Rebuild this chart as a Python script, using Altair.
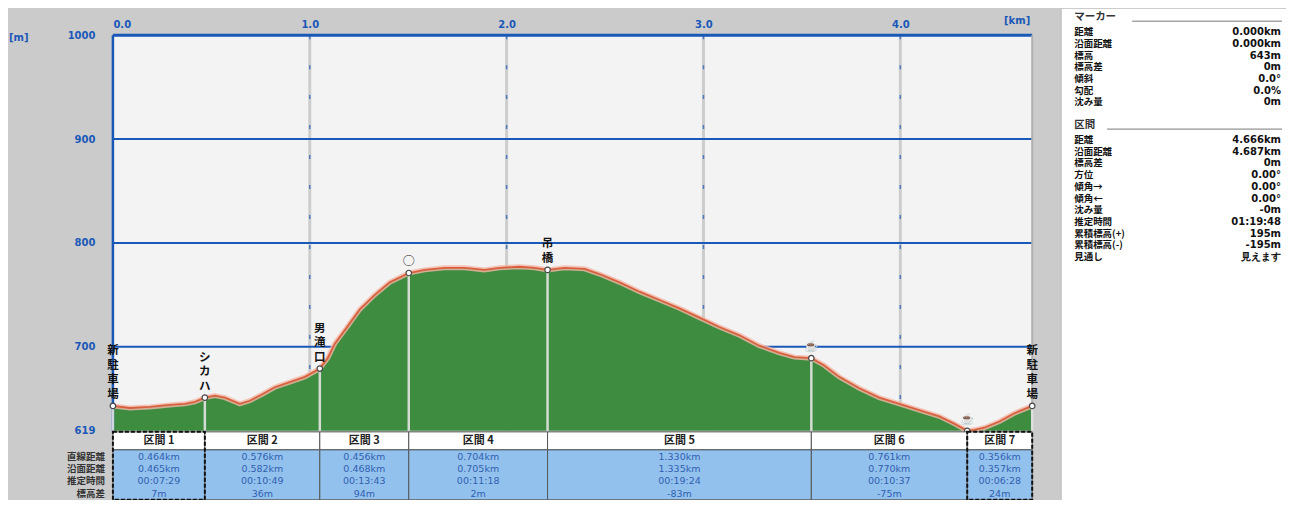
import altair as alt
import pandas as pd

# ---- profile (distance km, elevation m) ----
dist_km = [0.000, 0.086, 0.188, 0.289, 0.365, 0.416, 0.467, 0.518, 0.569, 0.645,
           0.695, 0.756, 0.822, 0.898, 0.975, 1.051, 1.091, 1.127, 1.178, 1.254,
           1.330, 1.406, 1.503, 1.584, 1.685, 1.787, 1.888, 1.964, 2.066, 2.142,
           2.208, 2.294, 2.396, 2.472, 2.574, 2.675, 2.777, 2.878, 2.980, 3.081,
           3.183, 3.284, 3.386, 3.462, 3.548, 3.614, 3.690, 3.792, 3.893, 3.995,
           4.096, 4.198, 4.274, 4.340, 4.376, 4.426, 4.503, 4.579, 4.670]
elev_m = [643, 641, 642, 644, 645, 647, 651, 653, 651, 645,
          648, 654, 661, 666, 671, 679, 689, 703, 716, 736,
          750, 762, 771, 774, 776, 776, 774, 776, 777, 776,
          774, 776, 775, 770, 762, 753, 745, 737, 728, 719,
          711, 701, 694, 690, 689, 682, 671, 660, 651, 645,
          639, 633, 626, 619, 620, 622, 628, 636, 643]

# ---- waypoints ----
wp_km = [0.000, 0.467, 1.051, 1.503, 2.208, 3.548, 4.340, 4.670]
wp_elev = [643, 651, 679, 771, 774, 689, 619, 643]
wp_label = ["新駐車場", "シカハ", "男滝口", "◯", "吊橋", "☕", "☕", "新駐車場"]

# ---- axes ----
x_ticks = [0, 1, 2, 3, 4]
y_ticks = [619, 700, 800, 900, 1000]
y_grid = [700, 800, 900]
x_domain = [0, 4.67]
y_domain = [619, 1000]

# ---- section table ----
sec_names = ["区間 1", "区間 2", "区間 3", "区間 4", "区間 5", "区間 6", "区間 7"]
sec_straight = ["0.464km", "0.576km", "0.456km", "0.704km", "1.330km", "0.761km", "0.356km"]
sec_surface = ["0.465km", "0.582km", "0.468km", "0.705km", "1.335km", "0.770km", "0.357km"]
sec_time = ["00:07:29", "00:10:49", "00:13:43", "00:11:18", "00:19:24", "00:10:37", "00:06:28"]
sec_diff = ["7m", "36m", "94m", "2m", "-83m", "-75m", "24m"]
row_labels = ["直線距離", "沿面距離", "推定時間", "標高差"]

# ---- info panel ----
marker_labels = ["距離", "沿面距離", "標高", "標高差", "傾斜", "勾配", "沈み量"]
marker_values = ["0.000km", "0.000km", "643m", "0m", "0.0°", "0.0%", "0m"]
section_labels = ["距離", "沿面距離", "標高差", "方位", "傾角→", "傾角←", "沈み量",
                  "推定時間", "累積標高(+)", "累積標高(-)", "見通し"]
section_values = ["4.666km", "4.687km", "0m", "0.00°", "0.00°", "0.00°", "-0m",
                  "01:19:48", "195m", "-195m", "見えます"]

JP = "Noto Sans CJK JP"
BLUE = "#1a58b8"

prof = pd.DataFrame({"km": dist_km, "elev": elev_m})
wps = pd.DataFrame({"km": wp_km, "elev": wp_elev})
# one row per label character, counted from the bottom
char_rows = []
for k, e, s in zip(wp_km, wp_elev, wp_label):
    for i, ch in enumerate(reversed(list(s))):
        char_rows.append({"km": k, "elev": e, "ch": ch, "pos": i})
chars = pd.DataFrame(char_rows)

secs = pd.DataFrame({
    "start": wp_km[:-1], "end": wp_km[1:], "name": sec_names,
    "cell": ["\n".join(v) for v in zip(sec_straight, sec_surface, sec_time, sec_diff)],
})
secs["mid"] = (secs["start"] + secs["end"]) / 2
secs["hl"] = [1, 0, 0, 0, 0, 0, 1]
one = pd.DataFrame({"a": [0]})

xs = alt.Scale(domain=x_domain, nice=False, zero=False)
ys = alt.Scale(domain=y_domain, nice=False, zero=False)
xaxis = alt.Axis(orient="top", values=x_ticks, format=".1f", title=None, ticks=False,
                 domain=False, grid=False, labelColor=BLUE, labelFont="DejaVu Sans",
                 labelFontWeight="bold", labelFontSize=10, labelPadding=6, labelFlush=True)
yaxis = alt.Axis(values=y_ticks, format="d", title=None, ticks=False, domain=False, grid=False,
                 labelColor=BLUE, labelFont="DejaVu Sans", labelFontWeight="bold",
                 labelFontSize=10, labelPadding=18)


def X(f):
    return alt.X(f, scale=xs, axis=xaxis)


def Y(f):
    return alt.Y(f, scale=ys, axis=yaxis)


layers = []

# grid
layers.append(alt.Chart(pd.DataFrame({"v": x_ticks[1:]})).mark_rule(
    color="#cdcdcd", strokeWidth=3).encode(x=X("v:Q")))
layers.append(alt.Chart(pd.DataFrame({"v": x_ticks[1:]})).mark_rule(
    color=BLUE, strokeWidth=1.5, strokeDash=[4, 26], opacity=0.7).encode(x=X("v:Q")))
layers.append(alt.Chart(pd.DataFrame({"v": y_grid})).mark_rule(
    color=BLUE, strokeWidth=2).encode(y=Y("v:Q")))

# profile
layers.append(alt.Chart(prof).mark_area(color="#3d8c40").encode(
    x=X("km:Q"), y=Y("elev:Q"), y2=alt.datum(619)))
layers.append(alt.Chart(prof).mark_line(color="#f2b8a8", strokeWidth=5, opacity=0.8).encode(
    x=X("km:Q"), y=Y("elev:Q")))
layers.append(alt.Chart(prof).mark_line(color="#d9603f", strokeWidth=1.8).encode(
    x=X("km:Q"), y=Y("elev:Q")))

# frame
layers.append(alt.Chart(pd.DataFrame({"v": [1000]})).mark_rule(
    color=BLUE, strokeWidth=3).encode(y=Y("v:Q")))
layers.append(alt.Chart(pd.DataFrame({"v": [0]})).mark_rule(
    color=BLUE, strokeWidth=2.5).encode(x=X("v:Q")))
layers.append(alt.Chart(pd.DataFrame({"v": [x_domain[1]]})).mark_rule(
    color="#b0b0b0", strokeWidth=2).encode(x=X("v:Q")))

# waypoints
layers.append(alt.Chart(wps).mark_rule(color="#e4e4e4", strokeWidth=2.5, opacity=0.9).encode(
    x=X("km:Q"), y=Y("elev:Q"), y2=alt.datum(619)))
layers.append(alt.Chart(wps).mark_point(shape="circle", filled=True, fill="white",
                                        stroke="#444444", strokeWidth=1.2, size=30,
                                        opacity=1).encode(x=X("km:Q"), y=Y("elev:Q")))
for i in range(4):
    layers.append(alt.Chart(chars).transform_filter(f"datum.pos == {i}").mark_text(
        font=JP, fontWeight="bold", fontSize=11.5, color="#111111", baseline="bottom",
        dy=-6 - 14.5 * i).encode(x=X("km:Q"), y=Y("elev:Q"), text="ch:N"))

# section table
layers.append(alt.Chart(secs).mark_rect(fill="white", stroke="#555555", strokeWidth=1).encode(
    x=X("start:Q"), x2="end:Q", y=alt.value(397), y2=alt.value(415)))
layers.append(alt.Chart(secs).mark_rect(fill="#93c1ee", stroke="#555555", strokeWidth=1).encode(
    x=X("start:Q"), x2="end:Q", y=alt.value(415), y2=alt.value(465)))
layers.append(alt.Chart(secs).transform_filter("datum.hl == 1").mark_rect(
    fill=None, filled=False, stroke="#111111", strokeWidth=2, strokeDash=[4, 2]).encode(
    x=X("start:Q"), x2="end:Q", y=alt.value(397), y2=alt.value(465)))
layers.append(alt.Chart(secs).mark_text(font=JP, fontWeight="bold", fontSize=11, color="#222222",
                                        baseline="middle").encode(
    x=X("mid:Q"), y=alt.value(406), text="name:N"))
layers.append(alt.Chart(secs).mark_text(font="DejaVu Sans", fontSize=9.5, color="#2f5fae",
                                        lineBreak="\n", lineHeight=12.3, baseline="top").encode(
    x=X("mid:Q"), y=alt.value(417), text="cell:N"))
layers.append(alt.Chart(one).mark_text(font=JP, fontWeight="bold", fontSize=9.5, color="#333333",
                                       lineBreak="\n", lineHeight=12.3, baseline="top",
                                       align="right").encode(
    x=alt.value(-8), y=alt.value(417), text=alt.value("\n".join(row_labels))))

# axis unit labels
layers.append(alt.Chart(one).mark_text(font="DejaVu Sans", fontWeight="bold", fontSize=10,
                                       color=BLUE, align="right").encode(
    x=alt.value(918), y=alt.value(-14), text=alt.value("[km]")))
layers.append(alt.Chart(one).mark_text(font="DejaVu Sans", fontWeight="bold", fontSize=10,
                                       color=BLUE, align="left").encode(
    x=alt.value(-104), y=alt.value(3), text=alt.value("[m]")))

# info panel
layers.append(alt.Chart(one).mark_rect(fill="white", stroke="#bbbbbb").encode(
    x=alt.value(949), x2=alt.value(1178), y=alt.value(-27), y2=alt.value(466)))
for hdr, yy in [("マーカー", -18), ("区間", 90)]:
    layers.append(alt.Chart(one).mark_text(font=JP, fontWeight="bold", fontSize=10.5,
                                           color="#333333", align="left").encode(
        x=alt.value(962), y=alt.value(yy), text=alt.value(hdr)))
    layers.append(alt.Chart(one).mark_rule(color="#777777", strokeWidth=1).encode(
        x=alt.value(1020 if hdr == "マーカー" else 995), x2=alt.value(1170),
        y=alt.value(yy + 4)))
for labs, vals, top in [(marker_labels, marker_values, -8), (section_labels, section_values, 100)]:
    layers.append(alt.Chart(one).mark_text(font=JP, fontWeight="bold", fontSize=9.5,
                                           color="#111111", align="left", baseline="top",
                                           lineBreak="\n", lineHeight=11.7).encode(
        x=alt.value(962), y=alt.value(top), text=alt.value("\n".join(labs))))
    layers.append(alt.Chart(one).mark_text(font="DejaVu Sans", fontWeight="bold", fontSize=10,
                                           color="#111111", align="right", baseline="top",
                                           lineBreak="\n", lineHeight=11.7).encode(
        x=alt.value(1169), y=alt.value(top), text=alt.value("\n".join(vals))))

chart = alt.layer(*layers).properties(
    width=920, height=396,
    padding={"left": 105, "top": 27, "right": 254, "bottom": 69},
    autosize=alt.AutoSizeParams(type="none"),
    background="#cbcbcb",
).configure_view(fill="#f3f3f3", stroke=None)

chart.save("out.html", embed_options={"renderer": "svg", "actions": False})
